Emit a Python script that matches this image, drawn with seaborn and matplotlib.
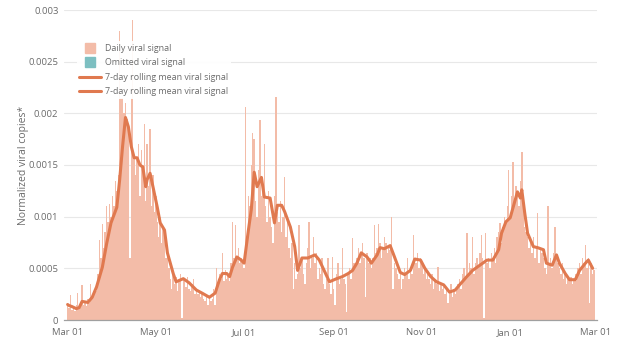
import numpy as np
import pandas as pd
import matplotlib
matplotlib.use("Agg")
import matplotlib.pyplot as plt
from matplotlib.lines import Line2D
import seaborn as sns

# ---------------- data ----------------
start_date = "2021-03-01"
unit = 1e-5  # values below are in units of 1e-5 normalized viral copies

daily_signal = [
    14, 12, 24, 10, 13, 9, 15, 26, 11, 12,
    34, 15, 18, 14, 20, 16, 35, 22, 25, 30,
    28, 45, 77, 60, 93, 70, 85, 110, 95, 112,
    100, 120, 110, 135, 125, 140, 280, 215, 215, 200,
    210, 195, 180, 60, 215, 290, 160, 140, 155, 170,
    120, 165, 150, 190, 115, 170, 130, 185, 110, 140,
    105, 120, 95, 80, 100, 75, 90, 85, 60, 70,
    50, 40, 30, 45, 35, 42, 28, 38, 45, 2,
    40, 38, 32, 42, 30, 28, 35, 40, 25, 30,
    25, 28, 22, 26, 20, 18, 24, 15, 22, 18,
    20, 30, 15, 50, 35, 45, 40, 65, 38, 48,
    40, 45, 38, 55, 95, 60, 92, 62, 70, 55,
    60, 55, 50, 206, 80, 120, 110, 150, 181, 175,
    115, 100, 145, 194, 120, 130, 170, 110, 95, 125,
    100, 90, 75, 120, 216, 105, 95, 115, 85, 100,
    138, 80, 95, 70, 60, 75, 30, 55, 40, 45,
    92, 50, 60, 45, 35, 55, 70, 95, 50, 60,
    80, 55, 65, 40, 50, 45, 60, 35, 30, 40,
    60, 35, 25, 61, 30, 15, 45, 55, 35, 40,
    70, 40, 35, 8, 45, 50, 40, 79, 55, 50,
    60, 70, 55, 65, 75, 60, 22, 65, 55, 60,
    50, 60, 92, 65, 70, 93, 75, 60, 70, 80,
    75, 65, 70, 68, 100, 30, 55, 50, 45, 40,
    45, 30, 40, 50, 45, 60, 40, 50, 45, 82,
    60, 55, 65, 50, 60, 55, 45, 50, 40, 45,
    40, 35, 45, 30, 38, 35, 51, 28, 35, 30,
    32, 25, 30, 16, 28, 35, 22, 30, 25, 28,
    35, 40, 30, 45, 50, 40, 84, 45, 55, 50,
    80, 45, 55, 60, 50, 65, 82, 60, 2, 84,
    55, 60, 50, 65, 60, 70, 55, 80, 85, 94,
    75, 90, 100, 95, 110, 145, 100, 120, 153, 115,
    130, 120, 110, 135, 163, 120, 90, 85, 80, 70,
    75, 65, 80, 60, 70, 104, 55, 70, 65, 60,
    50, 45, 110, 55, 60, 50, 65, 90, 60, 55,
    50, 45, 55, 40, 45, 35, 40, 38, 42, 35,
    40, 45, 38, 50, 55, 45, 60, 55, 73, 50,
    60, 16, 55, 45, 48,
]

rolling_days = [
    0, 1, 3, 6, 8, 10, 14, 17, 20, 24,
    27, 30, 34, 36, 38, 40, 42, 44, 46, 48,
    50, 52, 54, 55, 57, 59, 62, 64, 67, 69,
    73, 75, 80, 84, 89, 93, 98, 102, 105, 107,
    110, 112, 114, 117, 120, 122, 125, 127, 129, 131,
    134, 136, 140, 143, 145, 148, 150, 154, 157, 159,
    162, 166, 171, 174, 178, 181, 186, 190, 194, 197,
    200, 203, 207, 210, 214, 216, 219, 223, 226, 230,
    233, 237, 240, 244, 247, 251, 255, 260, 264, 268,
    271, 276, 280, 283, 287, 290, 294, 298, 300, 303,
    306, 308, 311, 313, 314, 316, 318, 322, 325, 329,
    331, 335, 338, 340, 344, 347, 351, 354, 358, 360,
    363,
]
rolling_mean = [
    15, 14, 13, 11, 12, 18, 17, 22, 32, 51,
    74, 94, 109, 136, 168, 196, 187, 168, 157, 157,
    150, 148, 129, 136, 142, 129, 109, 94, 87, 65,
    45, 37, 40, 36, 29, 26, 22, 26, 39, 45,
    45, 42, 51, 61, 58, 55, 87, 107, 143, 129,
    138, 119, 118, 94, 111, 111, 105, 90, 71, 48,
    60, 60, 63, 58, 46, 37, 40, 42, 45, 48,
    55, 65, 61, 55, 63, 70, 69, 72, 61, 46,
    44, 48, 59, 58, 50, 42, 37, 34, 27, 29,
    34, 42, 48, 51, 55, 58, 58, 68, 84, 95,
    99, 109, 124, 118, 126, 104, 84, 71, 70, 68,
    55, 53, 63, 55, 45, 39, 39, 48, 55, 58,
    50,
]

tick_dates = ["2021-03-01", "2021-05-01", "2021-07-01", "2021-09-01",
              "2021-11-01", "2022-01-01", "2022-03-01"]
tick_labels = ["Mar 01", "May 01", "Jul 01", "Sep 01", "Nov 01", "Jan 01", "Mar 01"]
y_ticks = [0, 0.0005, 0.001, 0.0015, 0.002, 0.0025, 0.003]
y_tick_labels = ["0", "0.0005", "0.001", "0.0015", "0.002", "0.0025", "0.003"]

legend_labels = ["Daily viral signal", "Omitted viral signal",
                 "7-day rolling mean viral signal", "7-day rolling mean viral signal"]

# ---------------- styling ----------------
BAR_COLOR = "#f3bca8"
OMIT_COLOR = "#7dbfc1"
LINE_COLOR = "#e0794f"
TEXT_COLOR = "#6b6b6b"

sns.set_theme(style="white")
plt.rcParams["font.family"] = ["Open Sans", "DejaVu Sans"]

t0 = pd.Timestamp(start_date)
daily_df = pd.DataFrame({
    "date": t0 + pd.to_timedelta(np.arange(len(daily_signal)), unit="D"),
    "value": np.array(daily_signal) * unit,
})
roll_df = pd.DataFrame({
    "date": t0 + pd.to_timedelta(np.array(rolling_days), unit="D"),
    "value": np.array(rolling_mean) * unit,
})

fig = plt.figure(figsize=(6.2, 3.43), dpi=100)
ax = fig.add_axes([64 / 620, 1 - 320 / 343, (597 - 64) / 620, 310 / 343])

ax.bar(daily_df["date"], daily_df["value"], width=1.0, color=BAR_COLOR,
       linewidth=0, align="center", zorder=2)
sns.lineplot(data=roll_df, x="date", y="value", ax=ax, color=LINE_COLOR,
             linewidth=2.2, zorder=3, legend=False)

ax.set_ylim(0, 0.003)
ax.set_xlim(t0 - pd.Timedelta(days=2.5), t0 + pd.Timedelta(days=366))
ax.set_yticks(y_ticks)
ax.set_yticklabels(y_tick_labels)
ax.set_xticks(pd.to_datetime(tick_dates))
ax.set_xticklabels(tick_labels)
ax.tick_params(axis="both", length=0, labelsize=6.8, colors=TEXT_COLOR, pad=4)
ax.tick_params(axis="x", pad=6)
ax.grid(axis="y", color="#e8e8e8", linewidth=0.8, zorder=0)
ax.grid(axis="x", visible=False)
for s in ["top", "right", "left"]:
    ax.spines[s].set_visible(False)
ax.spines["bottom"].set_color("#a0a0a0")
ax.spines["bottom"].set_linewidth(0.9)
ax.set_xlabel("")
ax.set_ylabel("Normalized viral copies*", fontsize=7.5, color=TEXT_COLOR)
ax.yaxis.set_label_coords(-0.066, 0.5)

handles = [
    Line2D([], [], marker="s", linestyle="none", markersize=6.5, color=BAR_COLOR),
    Line2D([], [], marker="s", linestyle="none", markersize=6.5, color=OMIT_COLOR),
    Line2D([], [], color=LINE_COLOR, linewidth=2.2),
    Line2D([], [], color=LINE_COLOR, linewidth=2.2),
]
leg = ax.legend(handles, legend_labels, loc="upper left",
                bbox_to_anchor=(0.024, 0.9), fontsize=6.4, frameon=True,
                framealpha=0.92, facecolor="white", edgecolor="none",
                handlelength=2.4, handletextpad=0.5, labelspacing=0.62,
                borderpad=0.3, borderaxespad=0)
for t in leg.get_texts():
    t.set_color(TEXT_COLOR)
leg.set_zorder(5)

fig.savefig("out.png", dpi=100)
